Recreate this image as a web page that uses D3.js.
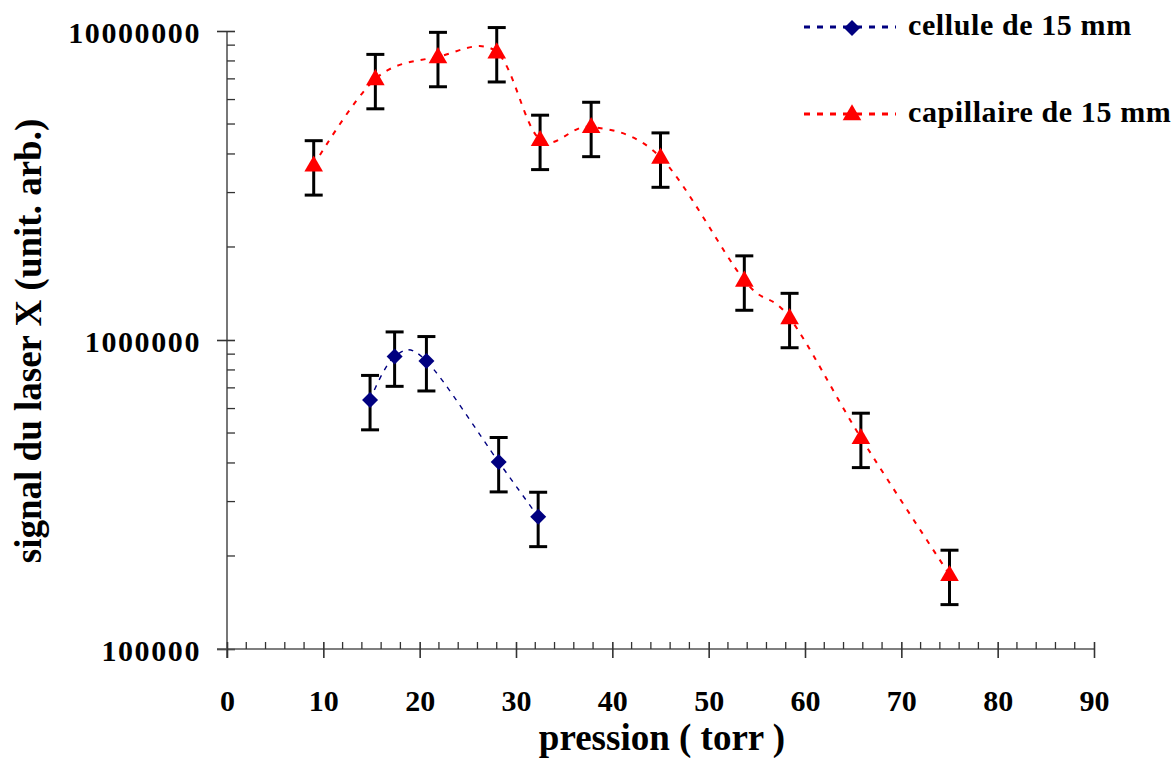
<!DOCTYPE html>
<html lang="fr">

<head>
    <meta charset="utf-8">
    <title>signal du laser X</title>
    <script src="https://cdn.jsdelivr.net/npm/d3@7"></script>
</head>
<style>
    body {
        margin: 0;
        background: white;
    }

    text {
        font-family: "Liberation Serif", "Times New Roman", serif;
        font-weight: bold;
        fill: black;
    }
</style>

<body>
    <script>
        // capillaire de 15 mm
        var capPression = [9.0, 15.4, 21.9, 28.0, 32.5, 37.8, 45.0, 53.7, 58.4, 65.8, 75.0];
        var capSignal = [3.68e6, 7.0e6, 8.25e6, 8.55e6, 4.45e6, 4.9e6, 3.9e6, 1.56e6, 1.18e6, 4.83e5, 1.74e5];
        // cellule de 15 mm
        var celPression = [14.85, 17.4, 20.7, 28.2, 32.3];
        var celSignal = [6.4e5, 8.85e5, 8.55e5, 4.03e5, 2.68e5];
        // barres d'erreur : +/- 20 %
        var errFrac = 0.2;

        var xTicks = [0, 10, 20, 30, 40, 50, 60, 70, 80, 90];
        var yTicks = [1e5, 1e6, 1e7];

        var width = 1171, height = 758;

        var x = d3.scaleLinear().domain([0, 90]).range([227, 1094]);
        var y = d3.scaleLog().domain([1e5, 1e7]).range([649, 31]);

        var svg = d3.select("body")
            .append("svg")
            .attr("width", width)
            .attr("height", height);

        // ticks mineurs
        var yMinor = [];
        [1e5, 1e6].forEach(d => { for (var k = 2; k <= 9; k++) yMinor.push(d * k); });
        var xMinor = d3.range(0, 91, 2).filter(d => d % 10 != 0);

        // axe y
        var yAxis = svg.append("g")
            .attr("transform", `translate(${x(0)},0)`)
            .call(d3.axisLeft(y).tickValues(yTicks).tickFormat(d3.format("d")).tickSizeOuter(0));
        yAxis.select(".domain").attr("stroke", "#555").attr("stroke-width", 1.6)
            .attr("d", `M0,${y(1e7)}V${y(1e5) + 9}`);
        yAxis.selectAll(".tick line").attr("x1", -10).attr("x2", 8).attr("stroke", "#333").attr("stroke-width", 1.6);
        yAxis.selectAll(".tick text")
            .attr("x", -26).attr("dy", "0.38em")
            .style("font-size", "30px").style("letter-spacing", "1.6px");

        svg.append("g")
            .selectAll("line")
            .data(yMinor)
            .join("line")
            .attr("x1", x(0)).attr("x2", x(0) + 8)
            .attr("y1", d => y(d)).attr("y2", d => y(d))
            .attr("stroke", "#333").attr("stroke-width", 1.3);

        // axe x
        var xAxis = svg.append("g")
            .attr("transform", `translate(0,${y(1e5)})`)
            .call(d3.axisBottom(x).tickValues(xTicks).tickSizeOuter(0));
        xAxis.select(".domain").attr("stroke", "#555").attr("stroke-width", 1.6)
            .attr("d", `M${x(0) - 10},0H${x(90)}`);
        xAxis.selectAll(".tick line").attr("y1", -7).attr("y2", 9).attr("stroke", "#333").attr("stroke-width", 1.6);
        xAxis.selectAll(".tick text").attr("y", 62).attr("dy", 0).style("font-size", "30px");

        svg.append("g")
            .selectAll("line")
            .data(xMinor)
            .join("line")
            .attr("x1", d => x(d)).attr("x2", d => x(d))
            .attr("y1", y(1e5)).attr("y2", y(1e5) - 7)
            .attr("stroke", "#333").attr("stroke-width", 1.3);

        // titres des axes
        svg.append("text")
            .attr("transform", `translate(41,${(y(1e7) + y(1e5)) / 2 + 1}) rotate(-90)`)
            .attr("text-anchor", "middle")
            .style("font-size", "37px")
            .text("signal du laser X (unit. arb.)");

        svg.append("text")
            .attr("x", 662).attr("y", 750)
            .attr("text-anchor", "middle")
            .style("font-size", "37px")
            .text("pression ( torr )");

        // courbes
        var line = d3.line()
            .x(d => x(d[0]))
            .y(d => y(d[1]))
            .curve(d3.curveCatmullRom.alpha(0));

        var capData = d3.zip(capPression, capSignal);
        var celData = d3.zip(celPression, celSignal);

        svg.append("path")
            .datum(capData)
            .attr("fill", "none")
            .attr("stroke", "#ff0000")
            .attr("stroke-width", 2)
            .attr("stroke-dasharray", "5 7")
            .attr("d", line);

        svg.append("path")
            .datum(celData)
            .attr("fill", "none")
            .attr("stroke", "#000080")
            .attr("stroke-width", 1.4)
            .attr("stroke-dasharray", "5 6")
            .attr("d", line);

        // barres d'erreur
        var errG = svg.append("g")
            .attr("stroke", "black")
            .attr("stroke-width", 3);

        var allData = capData.concat(celData);
        var bars = errG.selectAll("g")
            .data(allData)
            .join("g");
        bars.append("line")
            .attr("x1", d => x(d[0])).attr("x2", d => x(d[0]))
            .attr("y1", d => y(d[1] * (1 + errFrac))).attr("y2", d => y(d[1] * (1 - errFrac)));
        bars.append("line")
            .attr("x1", d => x(d[0]) - 9).attr("x2", d => x(d[0]) + 9)
            .attr("y1", d => y(d[1] * (1 + errFrac))).attr("y2", d => y(d[1] * (1 + errFrac)));
        bars.append("line")
            .attr("x1", d => x(d[0]) - 9).attr("x2", d => x(d[0]) + 9)
            .attr("y1", d => y(d[1] * (1 - errFrac))).attr("y2", d => y(d[1] * (1 - errFrac)));

        // marqueurs
        var triangle = d3.symbol().type(d3.symbolTriangle).size(150);
        var diamond = "M0,-8L8,0L0,8L-8,0Z";

        svg.append("g")
            .selectAll("path")
            .data(capData)
            .join("path")
            .attr("transform", d => `translate(${x(d[0])},${y(d[1]) + 1})`)
            .attr("d", triangle)
            .attr("fill", "#ff0000");

        svg.append("g")
            .selectAll("path")
            .data(celData)
            .join("path")
            .attr("transform", d => `translate(${x(d[0])},${y(d[1])})`)
            .attr("d", diamond)
            .attr("fill", "#000080");

        // légende
        var legend = [
            { label: "cellule de 15 mm", color: "#000080", shape: diamond, ly: 27 },
            { label: "capillaire de 15 mm", color: "#ff0000", shape: triangle(), ly: 114 }
        ];
        var lg = svg.append("g")
            .selectAll("g")
            .data(legend)
            .join("g")
            .attr("transform", d => `translate(0,${d.ly})`);
        lg.append("line")
            .attr("x1", 804).attr("x2", 896)
            .attr("stroke", d => d.color)
            .attr("stroke-width", 3)
            .attr("stroke-dasharray", "6 7");
        lg.append("path")
            .attr("transform", "translate(852,1)")
            .attr("d", d => d.shape)
            .attr("fill", d => d.color);
        lg.append("text")
            .attr("x", 908).attr("y", 8)
            .style("font-size", "30px")
            .style("letter-spacing", "0.6px")
            .text(d => d.label);
    </script>
</body>

</html>
